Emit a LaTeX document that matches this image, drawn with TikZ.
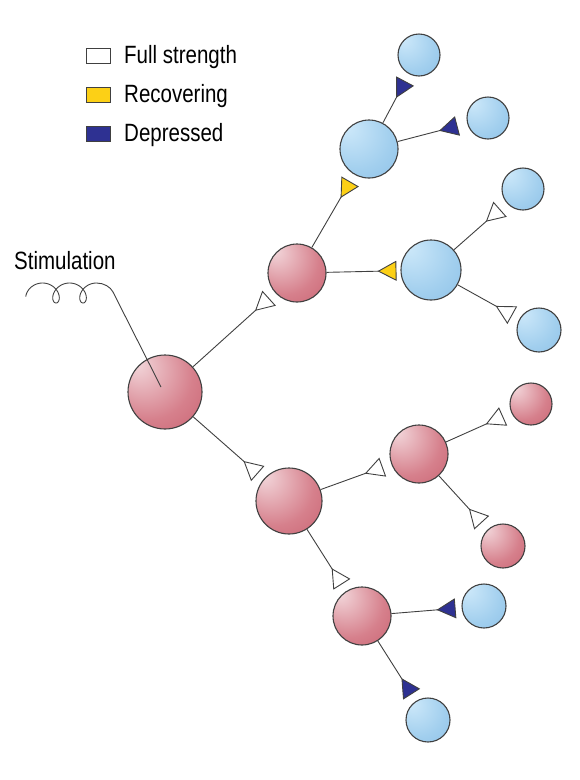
\documentclass[tikz,border=0pt]{standalone}
\usepackage{fontspec}
\setmainfont{Liberation Sans}[FakeStretch=0.82]
\usepackage{xcolor}
\usetikzlibrary{arrows.meta}

\definecolor{redhi}{RGB}{243,216,220}
\definecolor{redmid}{RGB}{214,128,140}
\definecolor{redlo}{RGB}{186,64,82}
\definecolor{bluehi}{RGB}{206,233,250}
\definecolor{bluemid}{RGB}{162,207,238}
\definecolor{bluelo}{RGB}{116,176,224}
\definecolor{recov}{RGB}{252,208,22}
\definecolor{depr}{RGB}{46,49,146}
\definecolor{edge}{RGB}{64,64,64}

\pgfdeclareradialshading{redball}{\pgfpoint{-20bp}{20bp}}{color(0bp)=(redhi); color(30bp)=(redmid); color(70bp)=(redlo)}
\pgfdeclareradialshading{blueball}{\pgfpoint{-20bp}{20bp}}{color(0bp)=(bluehi); color(30bp)=(bluemid); color(70bp)=(bluelo)}

\tikzset{
  cell/.style={circle,draw=edge,line width=1.1pt,inner sep=0pt},
  redcell/.style={cell,shading=redball},
  bluecell/.style={cell,shading=blueball},
  wire/.style={draw=edge,line width=0.9pt},
  full/.style={wire,-{Triangle[reversed,open,length=19pt,width=20pt]},shorten >=8pt},
  recovering/.style={wire,-{Triangle[reversed,fill=recov,length=19pt,width=20pt]},shorten >=8pt},
  depressed/.style={wire,-{Triangle[reversed,fill=depr,length=19pt,width=20pt]},shorten >=8pt},
  legbox/.style={draw=edge,line width=0.8pt,minimum width=24pt,minimum height=15pt,inner sep=0pt},
  label/.style={anchor=base west,inner sep=0pt,font=\fontsize{25}{30}\selectfont}
}

\begin{document}
\begin{tikzpicture}[x=1pt,y=-1pt]
    \useasboundingbox (0,0) rectangle (580,780);

    % legend
    \node (kfull) at (98,55.5) [legbox,fill=white] {};
    \node (krec) at (98,94.5) [legbox,fill=recov] {};
    \node (kdep) at (98,133.5) [legbox,fill=depr] {};
    \node (tfull) at (124,63) [label] {Full strength};
    \node (trec) at (124,102) [label] {Recovering};
    \node (tdep) at (124,141) [label] {Depressed};
    \node (tstim) at (14,269) [label] {Stimulation};

    % cells
    \node (root) at (165,392) [redcell,minimum size=74pt] {};
    \node (a) at (297,273) [redcell,minimum size=58pt] {};
    \node (b) at (369,149) [bluecell,minimum size=58pt] {};
    \node (c) at (419,55) [bluecell,minimum size=42pt] {};
    \node (d) at (488,118) [bluecell,minimum size=42pt] {};
    \node (e) at (431,270) [bluecell,minimum size=60pt] {};
    \node (f) at (523,189) [bluecell,minimum size=42pt] {};
    \node (g) at (539,330) [bluecell,minimum size=44pt] {};
    \node (h) at (289,501) [redcell,minimum size=66pt] {};
    \node (i) at (419,454) [redcell,minimum size=58pt] {};
    \node (j) at (531,404) [redcell,minimum size=42pt] {};
    \node (k) at (503,546) [redcell,minimum size=44pt] {};
    \node (l) at (362,616) [redcell,minimum size=58pt] {};
    \node (m) at (484,606) [bluecell,minimum size=44pt] {};
    \node (n) at (428,720) [bluecell,minimum size=44pt] {};

    % synapses
    \draw[full] (root) -- (a);
    \draw[full] (root) -- (h);
    \draw[recovering] (a) -- (b);
    \draw[recovering,shorten >=4pt] (a) -- (e);
    \draw[depressed] (b) -- (c);
    \draw[depressed,shorten >=10pt] (b) -- (d);
    \draw[full,shorten >=9pt] (e) -- (f);
    \draw[full] (e) -- (g);
    \draw[full,shorten >=9pt] (h) -- (i);
    \draw[full] (h) -- (l);
    \draw[full,shorten >=9pt] (i) -- (j);
    \draw[full,shorten >=9pt] (i) -- (k);
    \draw[depressed,shorten >=6pt] (l) -- (m);
    \draw[depressed] (l) -- (n);

    % stimulation electrode
    \coordinate (stim) at (161,387);
    \draw[wire] plot[domain=1.2:15.708,samples=160,smooth] ({29+4.3*\x-9*sin(\x r)},{293+10*cos(\x r)})
        .. controls (104,283) and (110.5,287) .. (113,292) -- (stim);

\end{tikzpicture}
\end{document}
